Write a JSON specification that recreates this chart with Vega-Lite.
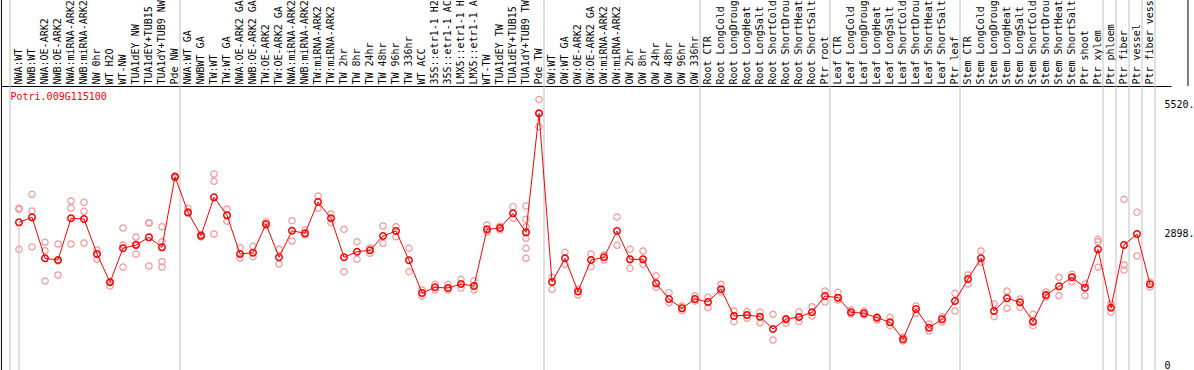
{
  "$schema": "https://vega.github.io/schema/vega-lite/v6.json",
  "width": 1170,
  "height": 284,
  "autosize": {"type": "none"},
  "padding": {"left": 1, "top": 86, "right": 23, "bottom": 0},
  "background": "white",
  "config": {"view": {"stroke": null}},
  "datasets": {
    "means": [
      {"c":"NWA:WT","v":3014},{"c":"NWB:WT","v":3116},{"c":"NWA:OE-ARK2","v":2280},{"c":"NWB:OE-ARK2","v":2245},
      {"c":"NWA:miRNA-ARK2","v":3096},{"c":"NWB:miRNA-ARK2","v":3082},{"c":"NW 0hr","v":2367},{"c":"WT H2O","v":1790},
      {"c":"WT-NW","v":2484},{"c":"TUA1dEY NW","v":2551},{"c":"TUA1dEY+TUB15 NW","v":2708},{"c":"TUA1dY+TUB9 NW","v":2504},
      {"c":"Pde NW","v":3945},{"c":"NWA:WT GA","v":3218},{"c":"NWBWT GA","v":2741},{"c":"TW:WT","v":3524},
      {"c":"TW:WT GA","v":3157},{"c":"NWA:OE-ARK2 GA","v":2367},{"c":"NWB:OE-ARK2 GA","v":2394},{"c":"TW:OE-ARK2","v":2980},
      {"c":"TW:OE-ARK2 GA","v":2300},{"c":"NWA:miRNA-ARK2 GA","v":2841},{"c":"NWB:miRNA-ARK2 GA","v":2790},{"c":"TW:miRNA-ARK2","v":3429},
      {"c":"TW:miRNA-ARK2 GA","v":3096},{"c":"TW 2hr","v":2300},{"c":"TW 8hr","v":2414},{"c":"TW 24hr","v":2443},
      {"c":"TW 48hr","v":2735},{"c":"TW 96hr","v":2837},{"c":"TW 336hr","v":2239},{"c":"WT ACC","v":1571},
      {"c":"35S::etr1-1 H2O","v":1688},{"c":"35S::etr1-1 ACC","v":1673},{"c":"LMX5::etr1-1 H2O","v":1755},{"c":"LMX5::etr1-1 ACC","v":1714},
      {"c":"WT-TW","v":2871},{"c":"TUA1dEY TW","v":2898},{"c":"TUA1dEY+TUB15 TW","v":3198},{"c":"TUA1dY+TUB9 TW","v":2810},
      {"c":"Pde TW","v":5239},{"c":"OW:WT","v":1796},{"c":"OW:WT GA","v":2280},{"c":"OW:OE-ARK2","v":1602},
      {"c":"OW:OE-ARK2 GA","v":2245},{"c":"OW:miRNA-ARK2","v":2300},{"c":"OW:miRNA-ARK2 GA","v":2837},{"c":"OW 2hr","v":2259},
      {"c":"OW 8hr","v":2259},{"c":"OW 24hr","v":1769},{"c":"OW 48hr","v":1449},{"c":"OW 96hr","v":1259},
      {"c":"OW 336hr","v":1449},{"c":"Root CTR","v":1388},{"c":"Root LongCold","v":1647},{"c":"Root LongDrought","v":1102},
      {"c":"Root LongHeat","v":1122},{"c":"Root LongSalt","v":1088},{"c":"Root ShortCold","v":837},{"c":"Root ShortDrought","v":1041},
      {"c":"Root ShortHeat","v":1082},{"c":"Root ShortSalt","v":1178},{"c":"Ptr root","v":1510},{"c":"Leaf CTR","v":1476},
      {"c":"Leaf LongCold","v":1178},{"c":"Leaf LongDrought","v":1157},{"c":"Leaf LongHeat","v":1067},{"c":"Leaf LongSalt","v":973},
      {"c":"Leaf ShortCold","v":627},{"c":"Leaf ShortDrought","v":1245},{"c":"Leaf ShortHeat","v":863},{"c":"Leaf ShortSalt","v":1035},
      {"c":"Ptr leaf","v":1408},{"c":"Stem CTR","v":1857},{"c":"Stem LongCold","v":2280},{"c":"Stem LongDrought","v":1204},
      {"c":"Stem LongHeat","v":1463},{"c":"Stem LongSalt","v":1382},{"c":"Stem ShortCold","v":986},{"c":"Stem ShortDrought","v":1531},
      {"c":"Stem ShortHeat","v":1708},{"c":"Stem ShortSalt","v":1892},{"c":"Ptr shoot","v":1680},{"c":"Ptr xylem","v":2463},
      {"c":"Ptr phloem","v":1271},{"c":"Ptr fiber","v":2551},{"c":"Ptr vessel","v":2776},{"c":"Ptr fiber vessel","v":1749}
    ],
    "reps": [
      {"c":"NWA:WT","v":3280},{"c":"NWA:WT","v":2463},{"c":"NWA:WT","v":3300},
      {"c":"NWB:WT","v":3586},{"c":"NWB:WT","v":3245},{"c":"NWB:WT","v":2510},
      {"c":"NWA:OE-ARK2","v":2606},{"c":"NWA:OE-ARK2","v":2435},{"c":"NWA:OE-ARK2","v":1816},
      {"c":"NWB:OE-ARK2","v":2571},{"c":"NWB:OE-ARK2","v":1939},{"c":"NWB:OE-ARK2","v":2225},
      {"c":"NWA:miRNA-ARK2","v":3449},{"c":"NWA:miRNA-ARK2","v":3306},{"c":"NWA:miRNA-ARK2","v":2571},
      {"c":"NWB:miRNA-ARK2","v":3422},{"c":"NWB:miRNA-ARK2","v":3239},{"c":"NWB:miRNA-ARK2","v":2592},
      {"c":"NW 0hr","v":2449},{"c":"NW 0hr","v":2259},
      {"c":"WT H2O","v":1802},{"c":"WT H2O","v":1714},
      {"c":"WT-NW","v":2898},{"c":"WT-NW","v":2551},{"c":"WT-NW","v":2102},
      {"c":"TUA1dEY NW","v":2714},{"c":"TUA1dEY NW","v":2367},{"c":"TUA1dEY NW","v":2571},
      {"c":"TUA1dEY+TUB15 NW","v":3006},{"c":"TUA1dEY+TUB15 NW","v":2994},{"c":"TUA1dEY+TUB15 NW","v":2122},
      {"c":"TUA1dY+TUB9 NW","v":2924},{"c":"TUA1dY+TUB9 NW","v":2618},{"c":"TUA1dY+TUB9 NW","v":2210},{"c":"TUA1dY+TUB9 NW","v":2102},
      {"c":"Pde NW","v":3959},{"c":"Pde NW","v":3918},
      {"c":"NWA:WT GA","v":3300},{"c":"NWA:WT GA","v":3198},
      {"c":"NWBWT GA","v":2765},{"c":"NWBWT GA","v":2714},
      {"c":"TW:WT","v":4000},{"c":"TW:WT","v":3851},{"c":"TW:WT","v":2776},
      {"c":"TW:WT GA","v":3286},{"c":"TW:WT GA","v":3035},
      {"c":"NWA:OE-ARK2 GA","v":2496},{"c":"NWA:OE-ARK2 GA","v":2280},
      {"c":"NWB:OE-ARK2 GA","v":2524},{"c":"NWB:OE-ARK2 GA","v":2312},
      {"c":"TW:OE-ARK2","v":3027},{"c":"TW:OE-ARK2","v":2939},
      {"c":"TW:OE-ARK2 GA","v":2463},{"c":"TW:OE-ARK2 GA","v":2163},
      {"c":"NWA:miRNA-ARK2 GA","v":3047},{"c":"NWA:miRNA-ARK2 GA","v":2633},
      {"c":"NWB:miRNA-ARK2 GA","v":2857},{"c":"NWB:miRNA-ARK2 GA","v":2755},
      {"c":"TW:miRNA-ARK2","v":3551},{"c":"TW:miRNA-ARK2","v":3300},
      {"c":"TW:miRNA-ARK2 GA","v":3184},{"c":"TW:miRNA-ARK2 GA","v":3006},
      {"c":"TW 2hr","v":2871},{"c":"TW 2hr","v":2006},
      {"c":"TW 8hr","v":2618},{"c":"TW 8hr","v":2259},
      {"c":"TW 24hr","v":2382},{"c":"TW 24hr","v":2490},
      {"c":"TW 48hr","v":2939},{"c":"TW 48hr","v":2586},
      {"c":"TW 96hr","v":2924},{"c":"TW 96hr","v":2720},
      {"c":"TW 336hr","v":2484},{"c":"TW 336hr","v":2006},
      {"c":"WT ACC","v":1633},{"c":"WT ACC","v":1510},
      {"c":"35S::etr1-1 H2O","v":1749},{"c":"35S::etr1-1 H2O","v":1633},
      {"c":"35S::etr1-1 ACC","v":1749},{"c":"35S::etr1-1 ACC","v":1633},
      {"c":"LMX5::etr1-1 H2O","v":1851},{"c":"LMX5::etr1-1 H2O","v":1673},
      {"c":"LMX5::etr1-1 ACC","v":1822},{"c":"LMX5::etr1-1 ACC","v":1633},
      {"c":"WT-TW","v":2959},{"c":"WT-TW","v":2816},
      {"c":"TUA1dEY TW","v":2939},{"c":"TUA1dEY TW","v":2857},
      {"c":"TUA1dEY+TUB15 TW","v":3333},{"c":"TUA1dEY+TUB15 TW","v":3096},
      {"c":"TUA1dY+TUB9 TW","v":3347},{"c":"TUA1dY+TUB9 TW","v":3075},{"c":"TUA1dY+TUB9 TW","v":2924},{"c":"TUA1dY+TUB9 TW","v":2688},{"c":"TUA1dY+TUB9 TW","v":2484},{"c":"TUA1dY+TUB9 TW","v":2280},
      {"c":"Pde TW","v":5520},{"c":"Pde TW","v":5230},{"c":"Pde TW","v":4965},
      {"c":"OW:WT","v":1892},{"c":"OW:WT","v":1647},
      {"c":"OW:WT GA","v":2402},{"c":"OW:WT GA","v":2157},
      {"c":"OW:OE-ARK2","v":1653},{"c":"OW:OE-ARK2","v":1531},
      {"c":"OW:OE-ARK2 GA","v":2367},{"c":"OW:OE-ARK2 GA","v":2108},
      {"c":"OW:miRNA-ARK2","v":2347},{"c":"OW:miRNA-ARK2","v":2245},
      {"c":"OW:miRNA-ARK2 GA","v":3122},{"c":"OW:miRNA-ARK2 GA","v":2545},
      {"c":"OW 2hr","v":2463},{"c":"OW 2hr","v":2075},
      {"c":"OW 8hr","v":2429},{"c":"OW 8hr","v":2163},
      {"c":"OW 24hr","v":1918},{"c":"OW 24hr","v":1688},
      {"c":"OW 48hr","v":1578},{"c":"OW 48hr","v":1373},
      {"c":"OW 96hr","v":1306},{"c":"OW 96hr","v":1210},
      {"c":"OW 336hr","v":1510},{"c":"OW 336hr","v":1408},
      {"c":"Root CTR","v":1484},{"c":"Root CTR","v":1271},
      {"c":"Root LongCold","v":1749},{"c":"Root LongCold","v":1592},
      {"c":"Root LongDrought","v":1204},{"c":"Root LongDrought","v":986},
      {"c":"Root LongHeat","v":1190},{"c":"Root LongHeat","v":1055},
      {"c":"Root LongSalt","v":1178},{"c":"Root LongSalt","v":965},
      {"c":"Root ShortCold","v":1137},{"c":"Root ShortCold","v":612},
      {"c":"Root ShortDrought","v":953},{"c":"Root ShortDrought","v":1020},
      {"c":"Root ShortHeat","v":1190},{"c":"Root ShortHeat","v":986},
      {"c":"Root ShortSalt","v":1292},{"c":"Root ShortSalt","v":1102},
      {"c":"Ptr root","v":1612},{"c":"Ptr root","v":1388},
      {"c":"Leaf CTR","v":1586},{"c":"Leaf CTR","v":1429},
      {"c":"Leaf LongCold","v":1224},{"c":"Leaf LongCold","v":1143},
      {"c":"Leaf LongDrought","v":1204},{"c":"Leaf LongDrought","v":1122},
      {"c":"Leaf LongHeat","v":1088},{"c":"Leaf LongHeat","v":1020},
      {"c":"Leaf LongSalt","v":1075},{"c":"Leaf LongSalt","v":904},
      {"c":"Leaf ShortCold","v":673},{"c":"Leaf ShortCold","v":592},
      {"c":"Leaf ShortDrought","v":1157},{"c":"Leaf ShortDrought","v":1306},
      {"c":"Leaf ShortHeat","v":939},{"c":"Leaf ShortHeat","v":796},
      {"c":"Leaf ShortSalt","v":1088},{"c":"Leaf ShortSalt","v":980},
      {"c":"Ptr leaf","v":1565},{"c":"Ptr leaf","v":1204},
      {"c":"Stem CTR","v":1939},{"c":"Stem CTR","v":1755},
      {"c":"Stem LongCold","v":2429},{"c":"Stem LongCold","v":2198},
      {"c":"Stem LongDrought","v":1347},{"c":"Stem LongDrought","v":1088},
      {"c":"Stem LongHeat","v":1612},{"c":"Stem LongHeat","v":1259},
      {"c":"Stem LongSalt","v":1449},{"c":"Stem LongSalt","v":1280},
      {"c":"Stem ShortCold","v":1137},{"c":"Stem ShortCold","v":904},
      {"c":"Stem ShortDrought","v":1592},{"c":"Stem ShortDrought","v":1490},
      {"c":"Stem ShortHeat","v":1892},{"c":"Stem ShortHeat","v":1516},
      {"c":"Stem ShortSalt","v":1953},{"c":"Stem ShortSalt","v":1802},
      {"c":"Ptr shoot","v":1755},{"c":"Ptr shoot","v":1516},
      {"c":"Ptr xylem","v":2667},{"c":"Ptr xylem","v":2618},{"c":"Ptr xylem","v":2096},
      {"c":"Ptr phloem","v":1347},{"c":"Ptr phloem","v":1178},
      {"c":"Ptr fiber","v":3484},{"c":"Ptr fiber","v":2143},{"c":"Ptr fiber","v":2041},
      {"c":"Ptr vessel","v":3218},{"c":"Ptr vessel","v":2327},
      {"c":"Ptr fiber vessel","v":1796},{"c":"Ptr fiber vessel","v":1694}
    ],
    "seps": [
      {"c":"Pde NW"},{"c":"Pde TW"},{"c":"OW 336hr"},{"c":"Ptr root"},{"c":"Ptr leaf"},
      {"c":"Ptr xylem"},{"c":"Ptr phloem"},{"c":"Ptr fiber"},{"c":"Ptr vessel"},{"c":"Ptr fiber vessel"}
    ],
    "first": [{"c":"NWA:WT"}],
    "last": [{"c":"Ptr fiber vessel"}]
  },
  "encoding": {
    "x": {
      "field": "c",
      "type": "nominal",
      "sort": null,
      "scale": {
        "type": "band",
        "paddingInner": 0,
        "paddingOuter": 1,
        "align": 0.4423,
        "domain": ["NWA:WT","NWB:WT","NWA:OE-ARK2","NWB:OE-ARK2","NWA:miRNA-ARK2","NWB:miRNA-ARK2","NW 0hr","WT H2O","WT-NW","TUA1dEY NW","TUA1dEY+TUB15 NW","TUA1dY+TUB9 NW","Pde NW","NWA:WT GA","NWBWT GA","TW:WT","TW:WT GA","NWA:OE-ARK2 GA","NWB:OE-ARK2 GA","TW:OE-ARK2","TW:OE-ARK2 GA","NWA:miRNA-ARK2 GA","NWB:miRNA-ARK2 GA","TW:miRNA-ARK2","TW:miRNA-ARK2 GA","TW 2hr","TW 8hr","TW 24hr","TW 48hr","TW 96hr","TW 336hr","WT ACC","35S::etr1-1 H2O","35S::etr1-1 ACC","LMX5::etr1-1 H2O","LMX5::etr1-1 ACC","WT-TW","TUA1dEY TW","TUA1dEY+TUB15 TW","TUA1dY+TUB9 TW","Pde TW","OW:WT","OW:WT GA","OW:OE-ARK2","OW:OE-ARK2 GA","OW:miRNA-ARK2","OW:miRNA-ARK2 GA","OW 2hr","OW 8hr","OW 24hr","OW 48hr","OW 96hr","OW 336hr","Root CTR","Root LongCold","Root LongDrought","Root LongHeat","Root LongSalt","Root ShortCold","Root ShortDrought","Root ShortHeat","Root ShortSalt","Ptr root","Leaf CTR","Leaf LongCold","Leaf LongDrought","Leaf LongHeat","Leaf LongSalt","Leaf ShortCold","Leaf ShortDrought","Leaf ShortHeat","Leaf ShortSalt","Ptr leaf","Stem CTR","Stem LongCold","Stem LongDrought","Stem LongHeat","Stem LongSalt","Stem ShortCold","Stem ShortDrought","Stem ShortHeat","Stem ShortSalt","Ptr shoot","Ptr xylem","Ptr phloem","Ptr fiber","Ptr vessel","Ptr fiber vessel"]
      },
      "axis": {
        "orient": "top",
        "title": null,
        "labelAngle": 270,
        "labelAlign": "left",
        "labelBaseline": "middle",
        "labelPadding": 2,
        "labelFont": "DejaVu Sans Mono",
        "labelFontSize": 10,
        "labelColor": "#000000",
        "labelExpr": "substring(datum.label, 0, 14)",
        "labelLimit": 200,
        "labelOverlap": false,
        "ticks": false,
        "tickSize": 0,
        "domain": true,
        "domainColor": "#000000",
        "domainWidth": 1,
        "grid": false
      }
    }
  },
  "layer": [
    {
      "data": {"name": "seps"},
      "mark": {"type": "rule", "color": "#c0c0c0", "strokeWidth": 1, "clip": false},
      "encoding": {
        "x": {"field": "c", "type": "nominal", "sort": null, "bandPosition": 0.885},
        "y": {"datum": 0, "type": "quantitative", "axis": null},
        "y2": {"datum": 7551}
      }
    },
    {
      "data": {"name": "first"},
      "mark": {"type": "rule", "color": "#c0c0c0", "strokeWidth": 1, "clip": false},
      "encoding": {
        "x": {"field": "c", "type": "nominal", "sort": null, "bandPosition": -0.19},
        "y": {"datum": 0, "type": "quantitative", "axis": null},
        "y2": {"datum": 7551}
      }
    },
    {
      "data": {"name": "first"},
      "mark": {"type": "rule", "color": "#000000", "strokeWidth": 1, "clip": false},
      "encoding": {
        "x": {"field": "c", "type": "nominal", "sort": null, "bandPosition": -0.85},
        "y": {"datum": 0, "type": "quantitative", "axis": null},
        "y2": {"datum": 7551}
      }
    },
    {
      "data": {"name": "last"},
      "mark": {"type": "rule", "color": "#000000", "strokeWidth": 1, "clip": false},
      "encoding": {
        "x": {"field": "c", "type": "nominal", "sort": null, "bandPosition": 3.42},
        "y": {"datum": 5796, "type": "quantitative", "axis": null},
        "y2": {"datum": 7551}
      }
    },
    {
      "data": {"name": "first"},
      "mark": {"type": "rule", "color": "#c0c0c0", "strokeWidth": 1},
      "encoding": {
        "y": {"datum": 2898, "type": "quantitative", "axis": null}
      }
    },
    {
      "data": {"name": "reps"},
      "mark": {"type": "point", "shape": "circle", "filled": false, "color": "#f09a9a", "size": 40, "strokeWidth": 1.2, "opacity": 1},
      "encoding": {
        "y": {"field": "v", "type": "quantitative", "scale": {"domain": [0, 5796], "nice": false, "zero": true},
          "axis": {"orient": "right", "offset": -8, "values": [0, 2898, 5520], "format": "d",
            "labelExpr": "datum.value == 0 ? '0' : datum.label + '.'",
            "labelBaseline": {"condition": {"test": "datum.value == 0", "value": "bottom"}, "value": "top"},
            "labelAlign": "left", "labelPadding": 1, "ticks": false, "tickSize": 0, "domain": false, "grid": false,
            "labelFont": "DejaVu Sans Mono", "labelFontSize": 10, "labelColor": "#000000", "title": null}}
      }
    },
    {
      "data": {"name": "means"},
      "mark": {"type": "line", "color": "#ff0000", "strokeWidth": 1},
      "encoding": {
        "y": {"field": "v", "type": "quantitative", "axis": null}
      }
    },
    {
      "data": {"name": "means"},
      "mark": {"type": "point", "shape": "circle", "filled": false, "color": "#ff0000", "size": 42, "strokeWidth": 1.5, "opacity": 1},
      "encoding": {
        "y": {"field": "v", "type": "quantitative",
          "axis": {"orient": "left", "labels": false, "ticks": false, "domain": false, "grid": false,
            "title": "Potri.009G115100", "titleAngle": 0, "titleAlign": "left", "titleBaseline": "top",
            "titleX": 9, "titleY": 5, "titleColor": "#ff0000", "titleFont": "DejaVu Sans Mono",
            "titleFontSize": 10, "titleFontWeight": "normal"}}
      }
    }
  ]
}
